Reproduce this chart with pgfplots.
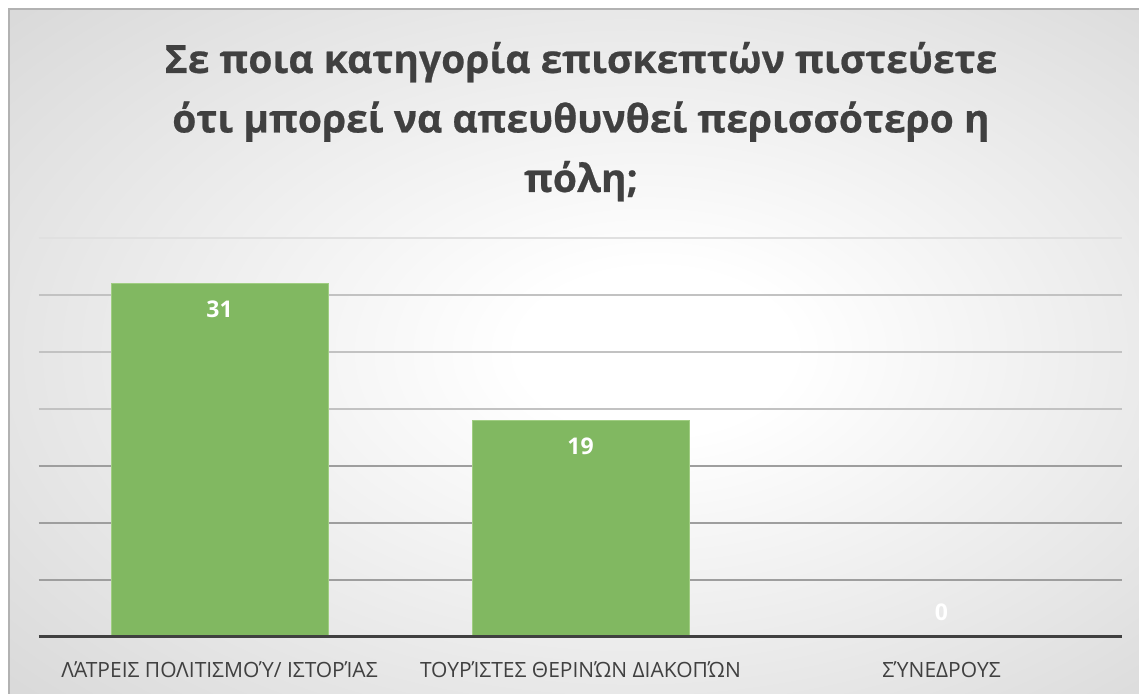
\documentclass[border=0pt]{standalone}
\usepackage{fontspec}
\usepackage{pgfplots}
\pgfplotsset{compat=1.18}
\setmainfont{Open Sans}
\newfontfamily\titlefont[BoldFeatures={FakeBold=0.6}]{Open Sans}
\definecolor{barfill}{RGB}{129,184,97}
\definecolor{baredge}{RGB}{160,205,130}
\definecolor{txt}{RGB}{64,64,64}
\pgfdeclareradialshading{bgshade}{\pgfpoint{4bp}{0bp}}{color(0bp)=(white); color(6bp)=(white); color(64bp)=(black!28)}

\begin{document}
\begin{tikzpicture}[x=1pt,y=1pt]
\useasboundingbox (-19.5,-28.5) rectangle (550,318.5);
\fill[white] (-19.5,-28.5) rectangle (550,318.5);
\shade[shading=bgshade] (-15,-28.5) rectangle (550,314);
\draw[black!30, line width=0.6pt] (-15,-28.5) -- (-15,314) -- (550,314);

\node[font=\titlefont\bfseries\fontsize{19.5}{29.75}\selectfont, text=txt, align=center, anchor=base]
  at (271,222.5) {Σε ποια κατηγορία επισκεπτών πιστεύετε\\ότι μπορεί να απευθυνθεί περισσότερο η\\πόλη;};

\begin{axis}[
    at={(0,0)}, anchor=south west,
    scale only axis,
    width=541.5pt, height=199.5pt,
    ybar,
    xmin=-0.5, xmax=2.5,
    ymin=0, ymax=35,
    /pgf/number format/assume math mode=true,
    axis line style={draw=none},
    xtick={0,1,2},
    xticklabels={ΛΆΤΡΕΙΣ ΠΟΛΙΤΙΣΜΟΎ/ ΙΣΤΟΡΊΑΣ, ΤΟΥΡΊΣΤΕΣ ΘΕΡΙΝΏΝ ΔΙΑΚΟΠΏΝ, ΣΎΝΕΔΡΟΥΣ},
    x tick label style={font=\fontsize{10.5}{13}\selectfont, text=txt, anchor=base, yshift=-16pt},
    major x tick style={draw=none},
    ytick={5,10,15},
    minor ytick={20,25,30},
    extra y ticks={35},
    yticklabel=\empty,
    extra y tick labels={},
    ytick style={draw=none},
    minor y tick style={draw=none},
    ymajorgrids, yminorgrids,
    major grid style={black!38, line width=0.6pt},
    minor grid style={black!24, line width=0.6pt},
    extra y tick style={grid=major, major grid style={black!12, line width=0.6pt}},
    clip=false,
]
\addplot[fill=barfill, draw=baredge, line width=0.5pt, bar width=108.5pt, bar shift=0pt,
    nodes near coords,
    every node near coord/.append style={anchor=center, yshift=-13pt, text=white, font=\bfseries\fontsize{11.5}{13}\selectfont}]
    coordinates {(0,31) (1,19)};
\addplot[fill=barfill, draw=none, bar width=108.5pt, bar shift=0pt,
    nodes near coords,
    every node near coord/.append style={anchor=center, yshift=12.5pt, text=white, font=\bfseries\fontsize{11.5}{13}\selectfont}]
    coordinates {(2,0)};
\draw[black!75, line width=1.5pt] (rel axis cs:0,0) -- (rel axis cs:1,0);
\end{axis}
\end{tikzpicture}
\end{document}
